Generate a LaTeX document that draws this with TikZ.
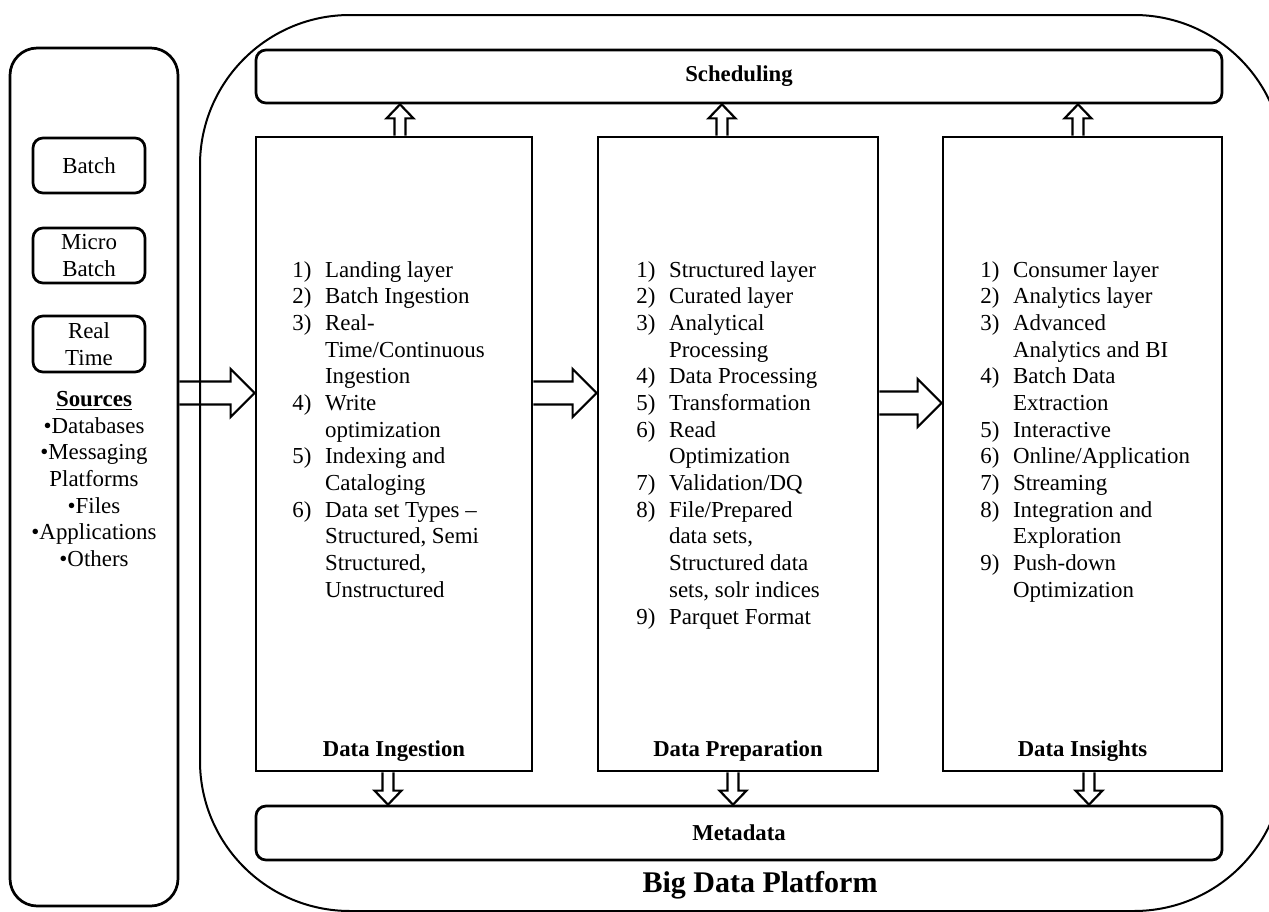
\documentclass[tikz,border=0pt]{standalone}
\usepackage{fontspec}
\setmainfont{Liberation Serif}
\usetikzlibrary{positioning, fit, calc}

\tikzset{
	box/.style={draw, line width=1.5pt, inner sep=0pt},
	rbox/.style={box, rounded corners=5.5pt},
	txt/.style={align=center, inner sep=0pt, font=\fontsize{12.6}{14.67}\selectfont},
	lbl/.style={font=\bfseries\fontsize{12.5}{14.67}\selectfont},
	steps/.style={anchor=north west, align=left, inner sep=0pt, font=\fontsize{12.6}{14.67}\selectfont},
	hollow/.style={line width=1.2pt, line join=miter},
}

%% numero do passo e recuo das linhas seguintes
\newcommand{\stepno}[1]{\makebox[18pt][l]{#1)}}
\newcommand{\stepgo}{\hspace*{18pt}}

%% seta vazada: inicio, fim, meia largura da haste, meia largura da ponta, comprimento da ponta
\newcommand{\hollowarrow}[5]{%
	\coordinate (ha-base) at ($(#2)!#5!(#1)$);
	\draw [hollow] ($(#1)!#3!90:(#2)$) -- ($(ha-base)!#3!-90:(#1)$)
	-- ($(ha-base)!#4!-90:(#1)$) -- (#2) -- ($(ha-base)!#4!90:(#1)$)
	-- ($(ha-base)!#3!90:(#1)$) -- ($(#1)!#3!-90:(#2)$);
}

\begin{document}
\begin{tikzpicture}[x=0.55pt, y=-0.55pt]
	\useasboundingbox (0,0) rectangle (1269,912);
	\clip (0,0) rectangle (1269,912);
	
	%% Plataforma
	\draw [line width=1.1pt, rounded corners=82.5pt] (200,15) rectangle (1284,911);
	\node [lbl, font=\bfseries\fontsize{16.5}{20}\selectfont] (bdp) at (760,885) {Big Data Platform};
	
	%% Fontes
	\node [box, rounded corners=15pt, fit={(10,48) (178,906)}] (src) {};
	\node [rbox, fit={(33,138) (145,193)}] (batch) {};
	\node [rbox, fit={(33,228) (145,283)}] (micro) {};
	\node [rbox, fit={(33,316) (145,372)}] (real) {};
	\node [txt] (batcht) at (batch) {Batch};
	\node [txt] (microt) at (micro) {Micro\\Batch};
	\node [txt] (realt) at (real) {Real\\Time};
	\node [txt, anchor=north] (srclist) at (94,391)
	{\underline{\textbf{Sources}}\\•Databases\\•Messaging\\Platforms\\•Files\\•Applications\\•Others};
	
	%% Faixas
	\node [rbox, fit={(256,50) (1222,103)}] (sched) {};
	\node [rbox, fit={(256,806) (1222,860)}] (meta) {};
	\node [lbl] (schedt) at (sched) {Scheduling};
	\node [lbl] (metat) at (meta) {Metadata};
	
	%% Colunas
	\node [box, fit={(256,137) (532,771)}] (ing) {};
	\node [box, fit={(598,137) (878,771)}] (prep) {};
	\node [box, fit={(943,137) (1222,771)}] (ins) {};
	
	\node [lbl, anchor=base] (ingt) at ([yshift=9pt]ing.south) {Data Ingestion};
	\node [lbl, anchor=base] (prept) at ([yshift=9pt]prep.south) {Data Preparation};
	\node [lbl, anchor=base] (inst) at ([yshift=9pt]ins.south) {Data Insights};
	
	\node [steps] (ingl) at (292,261) {%
		\stepno{1}Landing layer\\
		\stepno{2}Batch Ingestion\\
		\stepno{3}Real-\\
		\stepgo Time/Continuous\\
		\stepgo Ingestion\\
		\stepno{4}Write\\
		\stepgo optimization\\
		\stepno{5}Indexing and\\
		\stepgo Cataloging\\
		\stepno{6}Data set Types –\\
		\stepgo Structured, Semi\\
		\stepgo Structured,\\
		\stepgo Unstructured};
	
	\node [steps] (prepl) at (636,261) {%
		\stepno{1}Structured layer\\
		\stepno{2}Curated layer\\
		\stepno{3}Analytical\\
		\stepgo Processing\\
		\stepno{4}Data Processing\\
		\stepno{5}Transformation\\
		\stepno{6}Read\\
		\stepgo Optimization\\
		\stepno{7}Validation/DQ\\
		\stepno{8}File/Prepared\\
		\stepgo data sets,\\
		\stepgo Structured data\\
		\stepgo sets, solr indices\\
		\stepno{9}Parquet Format};
	
	\node [steps] (insl) at (980,261) {%
		\stepno{1}Consumer layer\\
		\stepno{2}Analytics layer\\
		\stepno{3}Advanced\\
		\stepgo Analytics and BI\\
		\stepno{4}Batch Data\\
		\stepgo Extraction\\
		\stepno{5}Interactive\\
		\stepno{6}Online/Application\\
		\stepno{7}Streaming\\
		\stepno{8}Integration and\\
		\stepgo Exploration\\
		\stepno{9}Push-down\\
		\stepgo Optimization};
	
	%% Setas entre as colunas
	\coordinate (s1) at (src.east |- 0,393);
	\coordinate (e1) at (ing.west |- 0,393);
	\coordinate (s2) at (ing.east |- 0,393);
	\coordinate (e2) at (prep.west |- 0,393);
	\coordinate (s3) at (prep.east |- 0,403);
	\coordinate (e3) at (ins.west |- 0,403);
	\hollowarrow{s1}{e1}{6.3pt}{13.2pt}{13.2pt}
	\hollowarrow{s2}{e2}{6.3pt}{13.2pt}{13.2pt}
	\hollowarrow{s3}{e3}{6.3pt}{13.2pt}{13.2pt}
	
	%% Setas para Scheduling
	\coordinate (u1) at (ing.north -| 400,0);
	\coordinate (v1) at (sched.south -| 400,0);
	\coordinate (u2) at (prep.north -| 722,0);
	\coordinate (v2) at (sched.south -| 722,0);
	\coordinate (u3) at (ins.north -| 1078,0);
	\coordinate (v3) at (sched.south -| 1078,0);
	\hollowarrow{u1}{v1}{3pt}{7.4pt}{7.7pt}
	\hollowarrow{u2}{v2}{3pt}{7.4pt}{7.7pt}
	\hollowarrow{u3}{v3}{3pt}{7.4pt}{7.7pt}
	
	%% Setas para Metadata
	\coordinate (d1) at (ing.south -| 388,0);
	\coordinate (m1) at (meta.north -| 388,0);
	\coordinate (d2) at (prep.south -| 733,0);
	\coordinate (m2) at (meta.north -| 733,0);
	\coordinate (d3) at (ins.south -| 1089,0);
	\coordinate (m3) at (meta.north -| 1089,0);
	\hollowarrow{d1}{m1}{3pt}{7.4pt}{7.7pt}
	\hollowarrow{d2}{m2}{3pt}{7.4pt}{7.7pt}
	\hollowarrow{d3}{m3}{3pt}{7.4pt}{7.7pt}
\end{tikzpicture}
\end{document}
